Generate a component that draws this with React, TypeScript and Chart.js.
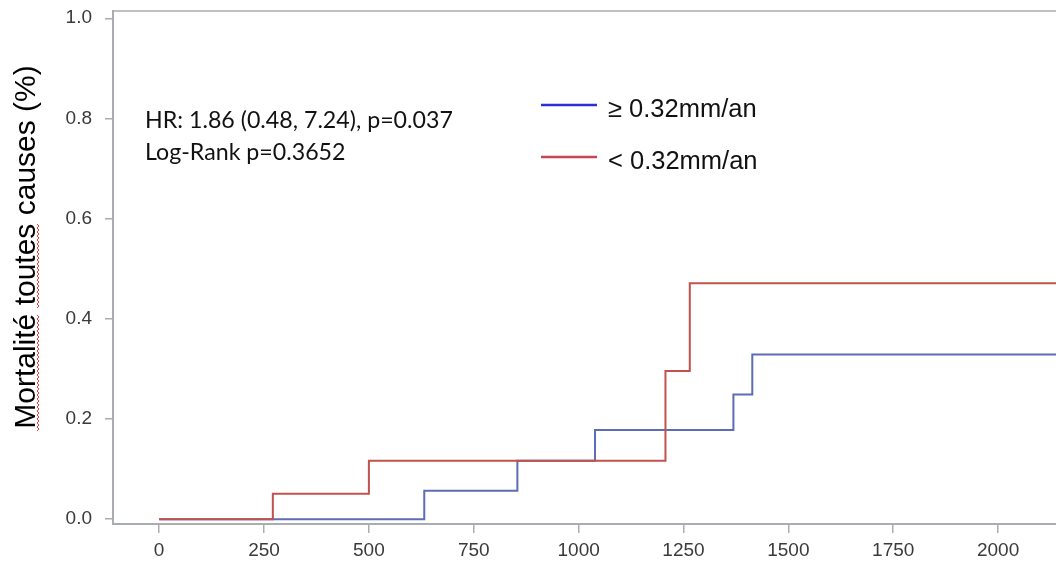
import React, { useEffect, useRef } from 'react';
import { Chart, registerables } from 'chart.js';

Chart.register(...registerables);

// ---- Data ----
const HIGH_LABEL = '≥ 0.32mm/an';
const LOW_LABEL = '< 0.32mm/an';
const HIGH_DAYS = [0, 632, 854, 1039, 1369, 1414, 2150];
const HIGH_MORT = [0, 0.057, 0.117, 0.178, 0.249, 0.329, 0.329];
const LOW_DAYS = [0, 271, 500, 1207, 1265, 2150];
const LOW_MORT = [0, 0.051, 0.117, 0.296, 0.471, 0.471];
const X_TICKS = [0, 250, 500, 750, 1000, 1250, 1500, 1750, 2000];
const Y_TICKS = [0, 0.2, 0.4, 0.6, 0.8, 1.0];
const Y_TITLE = 'Mortalité toutes causes (%)';
const STATS_LINES = ['HR: 1.86 (0.48, 7.24), p=0.037', 'Log-Rank p=0.3652'];

// ---- Styles ----
const AXIS = '#a9adb1';
const TICK = '#3a3a3a';
const BLUE_LINE = '#5c6cb6';
const RED_LINE = '#c1514c';
const BLUE_LEG = '#2b2fd6';
const RED_LEG = '#c64654';
const SANS = '"Liberation Sans", Arial, sans-serif';

const annotPlugin = {
  id: 'annot',
  afterDraw(chart: any) {
    const ctx: CanvasRenderingContext2D = chart.ctx;
    const { top, left, right } = chart.chartArea;
    ctx.save();
    // top frame line
    ctx.strokeStyle = AXIS;
    ctx.lineWidth = 1.5;
    ctx.beginPath();
    ctx.moveTo(left - 1, top);
    ctx.lineTo(right, top);
    ctx.stroke();

    // y title (rotated)
    ctx.save();
    ctx.translate(35, 247);
    ctx.rotate(-Math.PI / 2);
    ctx.fillStyle = '#000';
    ctx.font = `30px ${SANS}`;
    ctx.textAlign = 'center';
    ctx.textBaseline = 'alphabetic';
    ctx.fillText(Y_TITLE, 0, 0);
    ctx.restore();

    // spell-check squiggles
    ctx.strokeStyle = '#f03a3a';
    ctx.lineWidth = 1;
    const squiggle = (y0: number, y1: number) => {
      ctx.beginPath();
      let k = 0;
      for (let y = y1; y >= y0; y -= 2) {
        const x = 37 + (k % 2 === 0 ? 0 : 2);
        if (k === 0) ctx.moveTo(x, y);
        else ctx.lineTo(x, y);
        k++;
      }
      ctx.stroke();
    };
    squiggle(315, 431);
    squiggle(223, 308);

    // stats text
    ctx.fillStyle = '#111';
    ctx.textAlign = 'left';
    ctx.textBaseline = 'alphabetic';
    ctx.font = '20px Lato';
    const w = ctx.measureText(STATS_LINES[0]).width;
    const size = (20 * 308) / w;
    ctx.font = `${size.toFixed(2)}px Lato`;
    ctx.fillText(STATS_LINES[0], 145, 128);
    ctx.fillText(STATS_LINES[1], 145, 160);

    // legend
    const legend = [
      { label: HIGH_LABEL, color: BLUE_LEG, y: 105 },
      { label: LOW_LABEL, color: RED_LEG, y: 157 },
    ];
    ctx.font = `25.5px ${SANS}`;
    legend.forEach((l) => {
      ctx.strokeStyle = l.color;
      ctx.lineWidth = 2.5;
      ctx.beginPath();
      ctx.moveTo(541, l.y);
      ctx.lineTo(597, l.y);
      ctx.stroke();
      ctx.fillStyle = '#111';
      ctx.fillText(l.label, 608, l.y + 12);
    });
    ctx.restore();
  },
};

export default function App() {
  const ref = useRef<HTMLCanvasElement>(null);
  useEffect(() => {
    const chart = new Chart(ref.current as HTMLCanvasElement, {
      type: 'line',
      data: {
        datasets: [
          {
            label: LOW_LABEL,
            data: LOW_DAYS.map((x, i) => ({ x, y: LOW_MORT[i] })),
            borderColor: RED_LINE,
            borderWidth: 2,
            stepped: 'before',
            pointRadius: 0,
            fill: false,
          },
          {
            label: HIGH_LABEL,
            data: HIGH_DAYS.map((x, i) => ({ x, y: HIGH_MORT[i] })),
            borderColor: BLUE_LINE,
            borderWidth: 2,
            stepped: 'before',
            pointRadius: 0,
            fill: false,
          },
        ],
      },
      options: {
        responsive: false,
        animation: false,
        layout: { padding: { top: 0, right: 0, left: 0, bottom: 0 } },
        plugins: { legend: { display: false }, tooltip: { enabled: false } },
        scales: {
          x: {
            type: 'linear',
            min: -110,
            max: 2138,
            afterBuildTicks: (s: any) => {
              s.ticks = X_TICKS.map((v) => ({ value: v }));
            },
            afterFit: (s: any) => {
              s.height = 39;
              s.paddingLeft = 0;
              s.paddingRight = 0;
            },
            grid: { drawOnChartArea: false, drawTicks: true, tickLength: 9, color: AXIS, lineWidth: 1.5 },
            border: { display: true, color: AXIS, width: 2 },
            ticks: {
              padding: 6,
              color: TICK,
              font: { family: SANS, size: 19 },
              maxRotation: 0,
              autoSkip: false,
              callback: (v: any) => String(v),
            },
          },
          y: {
            type: 'linear',
            min: -0.0095,
            max: 1.0145,
            afterBuildTicks: (s: any) => {
              s.ticks = Y_TICKS.map((v) => ({ value: v }));
            },
            afterFit: (s: any) => {
              s.width = 113;
              s.paddingTop = 11;
              s.paddingBottom = 0;
            },
            grid: { drawOnChartArea: false, drawTicks: true, tickLength: 8, color: AXIS, lineWidth: 1.5 },
            border: { display: true, color: AXIS, width: 2 },
            ticks: {
              padding: 13,
              color: TICK,
              font: { family: SANS, size: 19 },
              autoSkip: false,
              callback: (v: any) => Number(v).toFixed(1),
            },
          },
        },
      },
      plugins: [annotPlugin],
    });
    return () => chart.destroy();
  }, []);
  return (
    <div style={{ position: 'fixed', left: 0, top: 0, width: 1056, height: 563, background: '#fff' }}>
      <canvas ref={ref} width={1056} height={563} style={{ display: 'block' }} />
    </div>
  );
}
